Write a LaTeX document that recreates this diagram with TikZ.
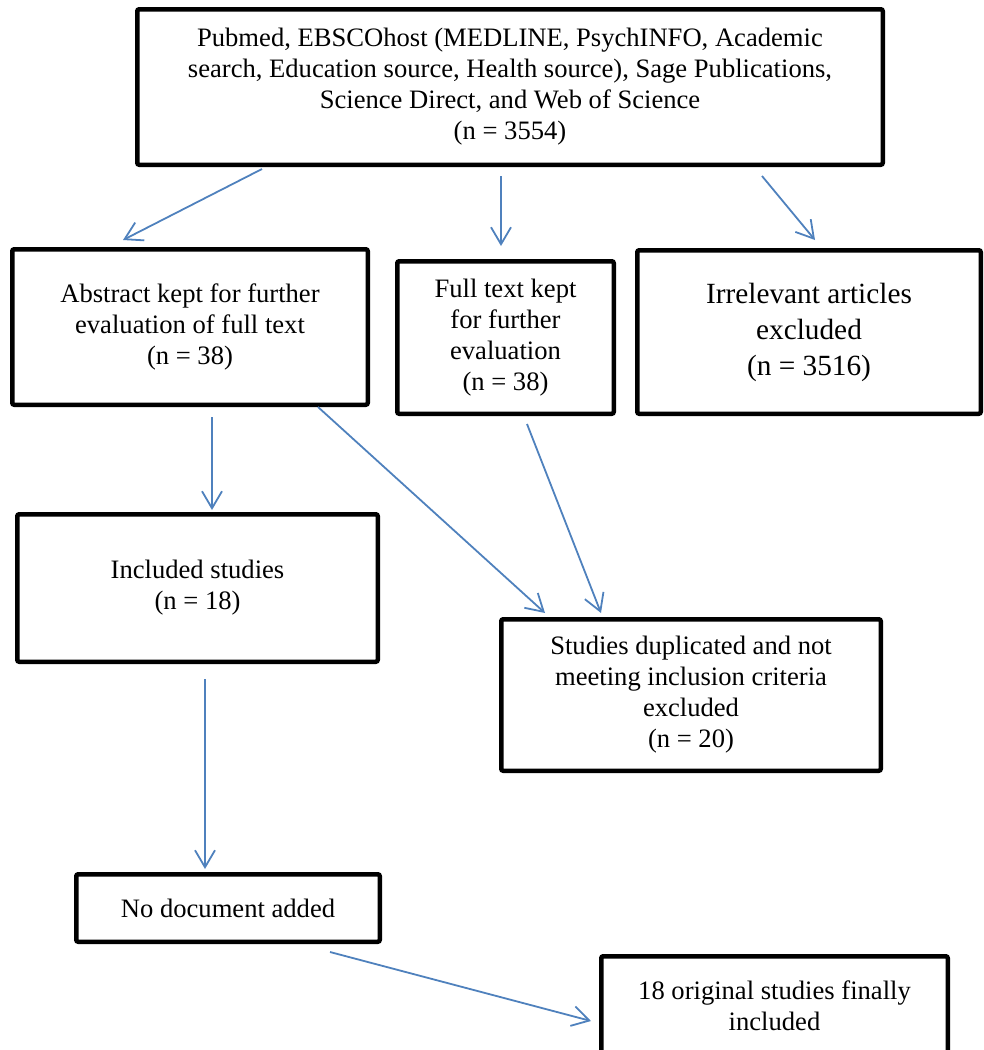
\documentclass[tikz,border=0pt]{standalone}
\usepackage{fontspec}
\setmainfont{Liberation Serif}
\usepackage{tikz}
\usepackage{xcolor}
\usetikzlibrary{arrows.meta}

\definecolor{arrowblue}{HTML}{4F81BD}

\begin{document}
\begin{tikzpicture}[x=1pt, y=-1pt,
        box/.style={draw, line width=4.5pt, rounded corners=2pt, align=center, inner sep=0pt,
            font=\fontsize{26.6}{31}\selectfont},
        bigbox/.style={box, font=\fontsize{29.3}{36}\selectfont},
        arr/.style={draw=arrowblue, line width=1.8pt, -{Straight Barb[length=17pt, width=20pt]}}]
            \useasboundingbox (0,0) rectangle (984,1050);
            % boxes
            \node[box, minimum width=745.5pt, minimum height=155.5pt] (src) at (510,87)
                {Pubmed, EBSCOhost (MEDLINE, PsychINFO, Academic\\search, Education source, Health source), Sage Publications,\\Science Direct, and Web of Science\\(n = 3554)};
            \node[box, minimum width=355.5pt, minimum height=155.5pt] (abs) at (190,327)
                {Abstract kept for further\\evaluation of full text\\(n = 38)};
            \node[box, minimum width=216.5pt, minimum height=152.5pt] (full) at (505.5,337.5)
                {Full text kept\\for further\\evaluation\\(n = 38)};
            \node[bigbox, minimum width=343.5pt, minimum height=163.5pt] (irr) at (809,332)
                {Irrelevant articles\\excluded\\(n = 3516)};
            \node[box, minimum width=360.5pt, minimum height=147.5pt] (inc) at (197.5,588)
                {Included studies\\(n = 18)};
            \node[box, minimum width=379.5pt, minimum height=151.5pt] (dup) at (691,695)
                {Studies duplicated and not\\meeting inclusion criteria\\excluded\\(n = 20)};
            \node[box, minimum width=303.5pt, minimum height=67.5pt] (nodoc) at (228,908)
                {No document added};
            \node[box, minimum width=346.5pt, minimum height=99.5pt] (fin) at (774.5,1006)
                {18 original studies finally\\included};
            % arrows
            \draw[arr] ([xshift=-248pt, yshift=-2pt]src.south) -- ([xshift=-67pt, yshift=7pt]abs.north);
            \draw[arr] ([xshift=-9pt, yshift=-9pt]src.south) -- ([xshift=-4.5pt, yshift=13pt]full.north);
            \draw[arr] ([xshift=252pt, yshift=-9pt]src.south) -- ([xshift=6pt, yshift=8pt]irr.north);
            \draw[arr] ([xshift=22pt, yshift=-10pt]abs.south) -- ([xshift=14.5pt, yshift=2pt]inc.north);
            \draw[arr] ([xshift=128pt]abs.south) -- ([xshift=-146pt, yshift=4pt]dup.north);
            \draw[arr] ([xshift=21.5pt, yshift=-8pt]full.south) -- ([xshift=-90pt, yshift=4pt]dup.north);
            \draw[arr] ([xshift=7.5pt, yshift=-15pt]inc.south) -- ([xshift=-23pt, yshift=3pt]nodoc.north);
            \draw[arr] ([xshift=102pt, yshift=-8pt]nodoc.south) -- ([xshift=-8pt, yshift=-15pt]fin.west);
        \end{tikzpicture}
\end{document}
